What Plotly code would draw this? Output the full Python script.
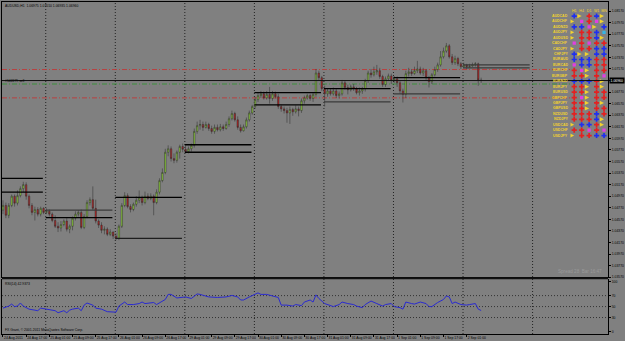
import plotly.graph_objects as go

# ---------------- data ----------------
bars = list(range(166))  # hourly bars, bar 0 = 24 Aug 2011 09:00

opens = [
    1.0473, 1.0481, 1.0464, 1.0481, 1.0497, 1.0485, 1.0498, 1.0510, 1.0517, 1.0497, 1.0481, 1.0469, 1.0474, 1.0466, 1.0476,
    1.0469, 1.0471, 1.0466, 1.0455, 1.0445, 1.0442, 1.0448, 1.0454, 1.0440, 1.0445, 1.0459, 1.0466, 1.0469, 1.0443, 1.0462, 1.0486, 1.0491, 1.0476, 1.0454, 1.0447, 1.0438, 1.0440, 1.0431, 1.0435,
    1.0428, 1.0424, 1.0445, 1.0481, 1.0498, 1.0479, 1.0474, 1.0483, 1.0490, 1.0495, 1.0486, 1.0497, 1.0493, 1.0497, 1.0486, 1.0504, 1.0524, 1.0538, 1.0573, 1.0579, 1.0562, 1.0559, 1.0573, 1.0583,
    1.0578, 1.0574, 1.0579, 1.0585, 1.0609, 1.0619, 1.0621, 1.0616, 1.0621, 1.0614, 1.0609, 1.0616, 1.0612, 1.0617, 1.0614, 1.0621, 1.0631, 1.0640, 1.0629, 1.0616, 1.0610, 1.0617, 1.0629, 1.0641,
    1.0652, 1.0664, 1.0671, 1.0674, 1.0667, 1.0673, 1.0666, 1.0674, 1.0669, 1.0652, 1.0648, 1.0645, 1.0641, 1.0647, 1.0643, 1.0648, 1.0645, 1.0662, 1.0667, 1.0671, 1.0666, 1.0673, 1.0710, 1.0702,
    1.0683, 1.0674, 1.0679, 1.0674, 1.0679, 1.0671, 1.0674, 1.0693, 1.0685, 1.0681, 1.0686, 1.0683, 1.0676, 1.0679, 1.0683, 1.0697, 1.0710, 1.0707, 1.0712, 1.0714, 1.0704, 1.0690, 1.0700, 1.0705,
    1.0697, 1.0700, 1.0693, 1.0679, 1.0673, 1.0709, 1.0712, 1.0709, 1.0714, 1.0717, 1.0710, 1.0714, 1.0702, 1.0695, 1.0707, 1.0716, 1.0724, 1.0738, 1.0748, 1.0757, 1.0738, 1.0728, 1.0735, 1.0726,
    1.0721, 1.0724, 1.0721, 1.0722, 1.0724, 1.0726, 1.0698,
]
highs = [
    1.0490, 1.0486, 1.0485, 1.0500, 1.0500, 1.0507, 1.0514, 1.0522, 1.0521, 1.0500, 1.0485, 1.0479, 1.0478, 1.0479, 1.0478,
    1.0476, 1.0474, 1.0469, 1.0464, 1.0452, 1.0454, 1.0457, 1.0459, 1.0448, 1.0462, 1.0471, 1.0473, 1.0474, 1.0466, 1.0490, 1.0495, 1.0514, 1.0491, 1.0457, 1.0452, 1.0445, 1.0443, 1.0440, 1.0436,
    1.0433, 1.0448, 1.0485, 1.0504, 1.0502, 1.0483, 1.0486, 1.0497, 1.0507, 1.0498, 1.0505, 1.0502, 1.0502, 1.0500, 1.0509, 1.0528, 1.0545, 1.0579, 1.0585, 1.0583, 1.0571, 1.0576, 1.0586, 1.0588,
    1.0585, 1.0583, 1.0588, 1.0614, 1.0626, 1.0629, 1.0626, 1.0626, 1.0624, 1.0619, 1.0621, 1.0621, 1.0622, 1.0621, 1.0626, 1.0635, 1.0645, 1.0643, 1.0635, 1.0621, 1.0621, 1.0633, 1.0645, 1.0655,
    1.0669, 1.0676, 1.0679, 1.0678, 1.0679, 1.0686, 1.0679, 1.0678, 1.0674, 1.0655, 1.0652, 1.0650, 1.0652, 1.0650, 1.0654, 1.0652, 1.0666, 1.0671, 1.0674, 1.0674, 1.0676, 1.0717, 1.0714, 1.0705,
    1.0688, 1.0683, 1.0683, 1.0685, 1.0683, 1.0678, 1.0698, 1.0697, 1.0690, 1.0690, 1.0691, 1.0686, 1.0685, 1.0686, 1.0700, 1.0714, 1.0717, 1.0721, 1.0724, 1.0719, 1.0707, 1.0704, 1.0709, 1.0709,
    1.0705, 1.0704, 1.0697, 1.0683, 1.0714, 1.0719, 1.0717, 1.0721, 1.0731, 1.0721, 1.0719, 1.0717, 1.0705, 1.0710, 1.0721, 1.0728, 1.0748, 1.0754, 1.0762, 1.0760, 1.0743, 1.0740, 1.0738, 1.0729,
    1.0728, 1.0726, 1.0726, 1.0728, 1.0729, 1.0728, 1.0702,
]
lows = [
    1.0466, 1.0459, 1.0459, 1.0478, 1.0479, 1.0481, 1.0495, 1.0504, 1.0491, 1.0476, 1.0464, 1.0455, 1.0462, 1.0462, 1.0466,
    1.0466, 1.0462, 1.0452, 1.0442, 1.0435, 1.0436, 1.0445, 1.0436, 1.0433, 1.0438, 1.0455, 1.0462, 1.0440, 1.0440, 1.0459, 1.0481, 1.0473, 1.0450, 1.0442, 1.0433, 1.0431, 1.0428, 1.0428, 1.0423,
    1.0421, 1.0421, 1.0442, 1.0478, 1.0476, 1.0469, 1.0471, 1.0479, 1.0485, 1.0481, 1.0483, 1.0490, 1.0490, 1.0464, 1.0483, 1.0500, 1.0521, 1.0535, 1.0566, 1.0557, 1.0554, 1.0555, 1.0562, 1.0573,
    1.0571, 1.0571, 1.0574, 1.0581, 1.0605, 1.0612, 1.0610, 1.0614, 1.0610, 1.0605, 1.0605, 1.0609, 1.0609, 1.0610, 1.0612, 1.0617, 1.0628, 1.0626, 1.0612, 1.0607, 1.0609, 1.0614, 1.0626, 1.0638,
    1.0648, 1.0660, 1.0667, 1.0664, 1.0664, 1.0657, 1.0662, 1.0666, 1.0648, 1.0643, 1.0640, 1.0624, 1.0622, 1.0636, 1.0640, 1.0635, 1.0641, 1.0657, 1.0664, 1.0662, 1.0660, 1.0669, 1.0698, 1.0679,
    1.0652, 1.0669, 1.0671, 1.0671, 1.0667, 1.0666, 1.0671, 1.0681, 1.0673, 1.0678, 1.0679, 1.0673, 1.0671, 1.0674, 1.0678, 1.0693, 1.0702, 1.0704, 1.0707, 1.0700, 1.0686, 1.0686, 1.0697, 1.0691,
    1.0693, 1.0686, 1.0674, 1.0659, 1.0667, 1.0704, 1.0705, 1.0707, 1.0710, 1.0707, 1.0705, 1.0698, 1.0685, 1.0691, 1.0704, 1.0712, 1.0721, 1.0735, 1.0745, 1.0735, 1.0724, 1.0724, 1.0722, 1.0717,
    1.0719, 1.0717, 1.0719, 1.0721, 1.0721, 1.0688, 1.0693,
]
closes = [
    1.0481, 1.0464, 1.0481, 1.0497, 1.0485, 1.0498, 1.0510, 1.0517, 1.0497, 1.0481, 1.0469, 1.0474, 1.0466, 1.0476, 1.0469,
    1.0471, 1.0466, 1.0455, 1.0445, 1.0442, 1.0448, 1.0454, 1.0440, 1.0445, 1.0459, 1.0466, 1.0469, 1.0443, 1.0462, 1.0486, 1.0491, 1.0476, 1.0454, 1.0447, 1.0438, 1.0440, 1.0431, 1.0435, 1.0428,
    1.0424, 1.0445, 1.0481, 1.0498, 1.0479, 1.0474, 1.0483, 1.0490, 1.0495, 1.0486, 1.0497, 1.0493, 1.0497, 1.0486, 1.0504, 1.0524, 1.0538, 1.0573, 1.0579, 1.0562, 1.0559, 1.0573, 1.0583, 1.0578,
    1.0574, 1.0579, 1.0585, 1.0609, 1.0619, 1.0621, 1.0616, 1.0621, 1.0614, 1.0609, 1.0616, 1.0612, 1.0617, 1.0614, 1.0621, 1.0631, 1.0640, 1.0629, 1.0616, 1.0610, 1.0617, 1.0629, 1.0641, 1.0652,
    1.0664, 1.0671, 1.0674, 1.0667, 1.0673, 1.0666, 1.0674, 1.0669, 1.0652, 1.0648, 1.0645, 1.0641, 1.0647, 1.0643, 1.0648, 1.0645, 1.0662, 1.0667, 1.0671, 1.0666, 1.0673, 1.0710, 1.0702, 1.0683,
    1.0674, 1.0679, 1.0674, 1.0679, 1.0671, 1.0674, 1.0693, 1.0685, 1.0681, 1.0686, 1.0683, 1.0676, 1.0679, 1.0683, 1.0697, 1.0710, 1.0707, 1.0712, 1.0714, 1.0704, 1.0690, 1.0700, 1.0705, 1.0697,
    1.0700, 1.0693, 1.0679, 1.0673, 1.0709, 1.0712, 1.0709, 1.0714, 1.0717, 1.0710, 1.0714, 1.0702, 1.0695, 1.0707, 1.0716, 1.0724, 1.0738, 1.0748, 1.0757, 1.0738, 1.0728, 1.0735, 1.0726, 1.0721,
    1.0724, 1.0721, 1.0722, 1.0724, 1.0726, 1.0698, 1.0697,
]

# RSI(14) read at selected bars
rsi_bars = [0, 2, 3, 4, 5, 6, 7, 9, 11, 12, 13, 15, 16, 18, 19, 21, 22, 23, 24, 26, 27, 28, 29, 31, 32, 34, 36, 38,
            39, 40, 42, 43, 45, 47, 48, 49, 51, 52, 53, 56, 57, 58, 60, 62, 63, 65, 67, 68, 70, 71, 74, 76, 77, 79,
            81, 82, 83, 85, 87, 88, 89, 91, 93, 95, 96, 98, 100, 101, 103, 104, 106, 107, 108, 109, 111, 112, 114,
            116, 117, 119, 121, 122, 124, 125, 127, 129, 131, 132, 134, 135, 137, 138, 139, 141, 142, 144, 146, 147,
            148, 150, 152, 153, 154, 155, 156, 158, 160, 161, 163, 164, 165]
rsi_vals = [47.2, 50.9, 54.6, 50.0, 50.9, 56.5, 50.9, 45.3, 43.5, 42.5, 47.2, 45.3, 43.5, 42.5, 38.8, 42.5, 38.8, 43.5,
            45.3, 47.2, 42.5, 52.7, 56.5, 52.7, 47.2, 45.3, 40.7, 40.7, 39.8, 50.9, 58.3, 53.7, 53.7, 55.5, 58.3, 55.5,
            57.4, 57.4, 53.7, 62.9, 72.2, 72.2, 65.7, 67.6, 67.6, 64.8, 73.1, 72.2, 69.4, 67.6, 66.6, 66.6, 67.6, 70.3,
            67.6, 62.0, 62.0, 67.6, 73.1, 75.0, 72.2, 72.2, 69.4, 66.6, 52.7, 52.7, 50.9, 53.7, 51.8, 58.3, 62.0, 58.3,
            71.3, 64.8, 55.5, 53.7, 50.0, 53.7, 58.3, 55.5, 53.7, 50.9, 48.1, 53.7, 60.1, 55.5, 50.9, 53.7, 55.5, 50.0,
            48.1, 45.3, 58.3, 55.5, 54.6, 58.3, 55.5, 50.0, 50.0, 57.4, 62.9, 69.4, 67.6, 55.5, 58.3, 53.7, 52.7, 53.7,
            55.5, 45.3, 42.9]

# daily range lines (start bar of day, upper & lower level)
day_start = [-9, 15, 39, 63, 87, 111, 135, 159]
range_high = [1.0528, 1.0473, 1.0495, 1.0586, 1.0676, 1.0683, 1.0702, 1.0724]
range_low = [1.0504, 1.0460, 1.0424, 1.0573, 1.0655, 1.0660, 1.0674, 1.0719]

# order / price levels
bid_price = 1.0697
order_open = 1.0691
stop_loss = 1.0716
take_profit = 1.0667

# time axis labels
time_tick_bars = [0, 8, 16, 24, 32, 40, 48, 56, 64, 72, 80, 88, 96, 104, 112, 120, 128, 136, 144, 152, 160]
time_tick_text = ["24 Aug 2011", "24 Aug 17:00", "25 Aug 01:00", "25 Aug 09:00", "25 Aug 17:00", "26 Aug 01:00",
                  "26 Aug 09:00", "26 Aug 17:00", "29 Aug 01:00", "29 Aug 09:00", "29 Aug 17:00", "30 Aug 01:00",
                  "30 Aug 09:00", "30 Aug 17:00", "31 Aug 01:00", "31 Aug 09:00", "31 Aug 17:00", "1 Sep 01:00",
                  "1 Sep 09:00", "1 Sep 17:00", "2 Sep 01:00"]
day_sep_bars = [14.75, 38.75, 62.75, 86.75, 110.75, 134.75, 158.75, 182.75]

price_ticks = [round(1.0357 + 0.002 * k, 4) for k in range(24)]
price_tick_text = ["%.5f" % v for v in price_ticks]
# MT4 prints the RSI scale labels just inside the window edges
rsi_label_pos = [4, 30, 50, 70, 95.5]
rsi_label_text = ["0", "30", "50", "70", "100"]
rsi_levels = [30, 50, 70]

# multi-timeframe signal table
timeframes = ["H1", "H4", "D1", "W1", "MN"]
pairs = ["AUDCAD", "AUDCHF", "AUDNZD", "AUDJPY", "AUDUSD", "CADCHF", "CADJPY", "CHFJPY", "EURAUD", "EURCAD",
         "EURCHF", "EURGBP", "EURNZD", "EURJPY", "EURUSD", "GBPCHF", "GBPJPY", "GBPUSD", "NZDUSD", "NZDJPY",
         "USDCAD", "USDCHF", "USDJPY"]
signals = ["BYRBY", "YMRMY", "BBMYB", "YRRBC", "YRRBY", "MRMRR", "YRRBB", "BYYBB", "BBBRR", "MBBRR", "RMYRR",
           "RRYRM", "BBBRY", "RRYRY", "RRYRR", "RMYRR", "RRYRY", "RRYRR", "RRRBR", "RRRBY", "YBBRY", "RRMRM", "YRRBB"]

# ---------------- figure ----------------
BG = "#808080"
FONT = "Liberation Sans"
W, H = 625, 341
ML, MR, MT, MB = 1, 14, 1, 7
plot_h = H - MT - MB
main_bottom = (H - MB - 277) / plot_h
rsi_top = (H - MB - 279) / plot_h
table_x0 = 0.9381

fig = go.Figure()

fig.add_trace(go.Candlestick(
    x=bars, open=opens, high=highs, low=lows, close=closes,
    xaxis="x2", yaxis="y2",
    increasing=dict(fillcolor="#92d43e", line=dict(color="#2c2c2c", width=0.5)),
    decreasing=dict(fillcolor="#b82222", line=dict(color="#2c2c2c", width=0.5)),
    whiskerwidth=0, hoverinfo="skip", showlegend=False,
))

# daily range segments
hi_colors = ["#000000", "#3a3a3a", "#000000", "#000000", "#000000", "#000000", "#000000", "#3a3a3a"]
lo_colors = ["#000000", "#000000", "#1e1e1e", "#000000", "#000000", "#3a3a3a", "#3a3a3a", "#3a3a3a"]
for i, s in enumerate(day_start):
    for lvl, col in ((range_high[i], hi_colors[i]), (range_low[i], lo_colors[i])):
        fig.add_trace(go.Scatter(x=[s - 0.25, s + 22.75], y=[lvl, lvl], mode="lines",
                                 line=dict(color=col, width=1.3), xaxis="x2", yaxis="y2",
                                 hoverinfo="skip", showlegend=False))

# RSI line
fig.add_trace(go.Scatter(x=rsi_bars, y=rsi_vals, mode="lines", line=dict(color="#2a2ad0", width=1),
                         xaxis="x", yaxis="y", hoverinfo="skip", showlegend=False))

# signal table
sym = {"B": ("cross", "#1f2ff0", 4.3), "R": ("cross", "#e42020", 4.3), "Y": ("arrow-right", "#f2d22e", 4.3),
       "M": ("square", "#e23ee2", 3.3), "C": ("square", "#35b6e6", 3.3)}
for code, (symbol, color, size) in sym.items():
    xs, ys = [], []
    for r, row in enumerate(signals):
        for c, ch in enumerate(row):
            if ch == code:
                xs.append(timeframes[c])
                ys.append(pairs[r])
    fig.add_trace(go.Scatter(x=xs, y=ys, mode="markers", xaxis="x3", yaxis="y3",
                             marker=dict(symbol=symbol, color=color, size=size, line=dict(width=0)),
                             hoverinfo="skip", showlegend=False))
fig.add_trace(go.Scatter(x=timeframes, y=["hdr"] * 5, mode="text", text=timeframes, xaxis="x3", yaxis="y3",
                         textfont=dict(family=FONT, size=3.6, color="#f2d22e"), hoverinfo="skip", showlegend=False))

shapes = []
for b in day_sep_bars:
    shapes.append(dict(type="line", xref="x", yref="paper", x0=b, x1=b, y0=0, y1=1,
                       line=dict(color="#222222", width=1, dash="1px,2px"), layer="below"))
for lv in rsi_levels:
    shapes.append(dict(type="line", xref="paper", yref="y", x0=0, x1=1, y0=lv, y1=lv,
                       line=dict(color="#333333", width=1, dash="1px,2px"), layer="below"))
for lv, col in ((stop_loss, "#b84040"), (take_profit, "#b84040"), (order_open, "#3d8f3d")):
    shapes.append(dict(type="line", xref="paper", yref="y2", x0=0, x1=1, y0=lv, y1=lv,
                       line=dict(color=col, width=1, dash="5px,2px,1px,2px"), layer="below"))
shapes.append(dict(type="line", xref="paper", yref="y2", x0=0, x1=1, y0=bid_price, y1=bid_price,
                   line=dict(color="#111111", width=1)))
shapes.append(dict(type="rect", xref="paper", yref="paper", x0=0, x1=1, y0=rsi_top, y1=main_bottom,
                   line=dict(width=0), fillcolor="#111111"))

small = dict(family=FONT, size=3.4, color="#000000")
annotations = [
    dict(xref="paper", yref="paper", x=0, y=1, xanchor="left", yanchor="top", xshift=1,
         text="AUDUSD,H1  1.06975 1.07010 1.06935 1.06960", showarrow=False, font=small),
    dict(xref="paper", yref="y2", x=0, y=bid_price, xanchor="left", yanchor="middle", xshift=1,
         text="#142279 sell", showarrow=False, font=small),
    dict(xref="paper", yref="paper", x=0, y=rsi_top, xanchor="left", yanchor="top", xshift=1, yshift=-1,
         text="RSI(14) 42.9373", showarrow=False, font=small),
    dict(xref="paper", yref="paper", x=0, y=0, xanchor="left", yanchor="bottom", xshift=1, yshift=0,
         text="FX Grant, © 2001-2011 MetaQuotes Software Corp.", showarrow=False, font=small),
    dict(xref="paper", yref="paper", x=0.9934, y=main_bottom, xanchor="right", yanchor="bottom", yshift=1,
         text="Spread 28  Bar 16:47", showarrow=False, font=dict(family=FONT, size=4.6, color="#9a9a9a")),
    dict(xref="paper", yref="y2", x=1, y=bid_price, xanchor="left", yanchor="middle", xshift=1,
         text="1.06960", showarrow=False, bgcolor="#000000", borderpad=0.6,
         font=dict(family=FONT, size=3.4, color="#ffffff")),
]
for r, p in enumerate(pairs):
    annotations.append(dict(xref="paper", yref="y3", x=table_x0, y=r + 1, xanchor="right", yanchor="middle",
                            xshift=-0.5, text=p, showarrow=False,
                            font=dict(family=FONT, size=3.5, color="#f2d22e", weight="bold")))

axis_common = dict(showgrid=False, zeroline=False, linecolor="#000000", linewidth=1, showline=True,
                   tickcolor="#000000", ticks="outside", ticklen=2, tickwidth=1,
                   tickfont=dict(family=FONT, size=3.4, color="#000000"))
xr = [(1 - 2) / 2.917, (611 - 2) / 2.917]

fig.update_layout(
    width=W, height=H, margin=dict(l=ML, r=MR, t=MT, b=MB),
    paper_bgcolor=BG, plot_bgcolor=BG, showlegend=False,
    xaxis=dict(axis_common, domain=[0, 1], anchor="y", range=xr, tickvals=time_tick_bars,
               ticktext=time_tick_text, ticklabelposition="outside right", tickangle=0, mirror=False),
    yaxis=dict(axis_common, domain=[0, rsi_top], anchor="x", range=[0, 100], side="right",
               tickvals=rsi_label_pos, ticktext=rsi_label_text, mirror=True),
    xaxis2=dict(axis_common, domain=[0, 1], anchor="y2", matches="x", showticklabels=False, ticks="",
                mirror=True, rangeslider=dict(visible=False)),
    yaxis2=dict(axis_common, domain=[main_bottom, 1], anchor="x2", range=[1.0357, 1.08328], side="right",
                tickvals=price_ticks, ticktext=price_tick_text, mirror=True),
    xaxis3=dict(domain=[table_x0, 0.9996], anchor="y3", type="category", categoryarray=timeframes,
                range=[-0.5, 4.5], visible=False),
    yaxis3=dict(domain=[0.5895, 0.9823], anchor="x3", type="category", categoryarray=["hdr"] + pairs,
                range=[23.5, -0.5], visible=False),
    shapes=shapes, annotations=annotations,
)

fig.write_html("out.html")
